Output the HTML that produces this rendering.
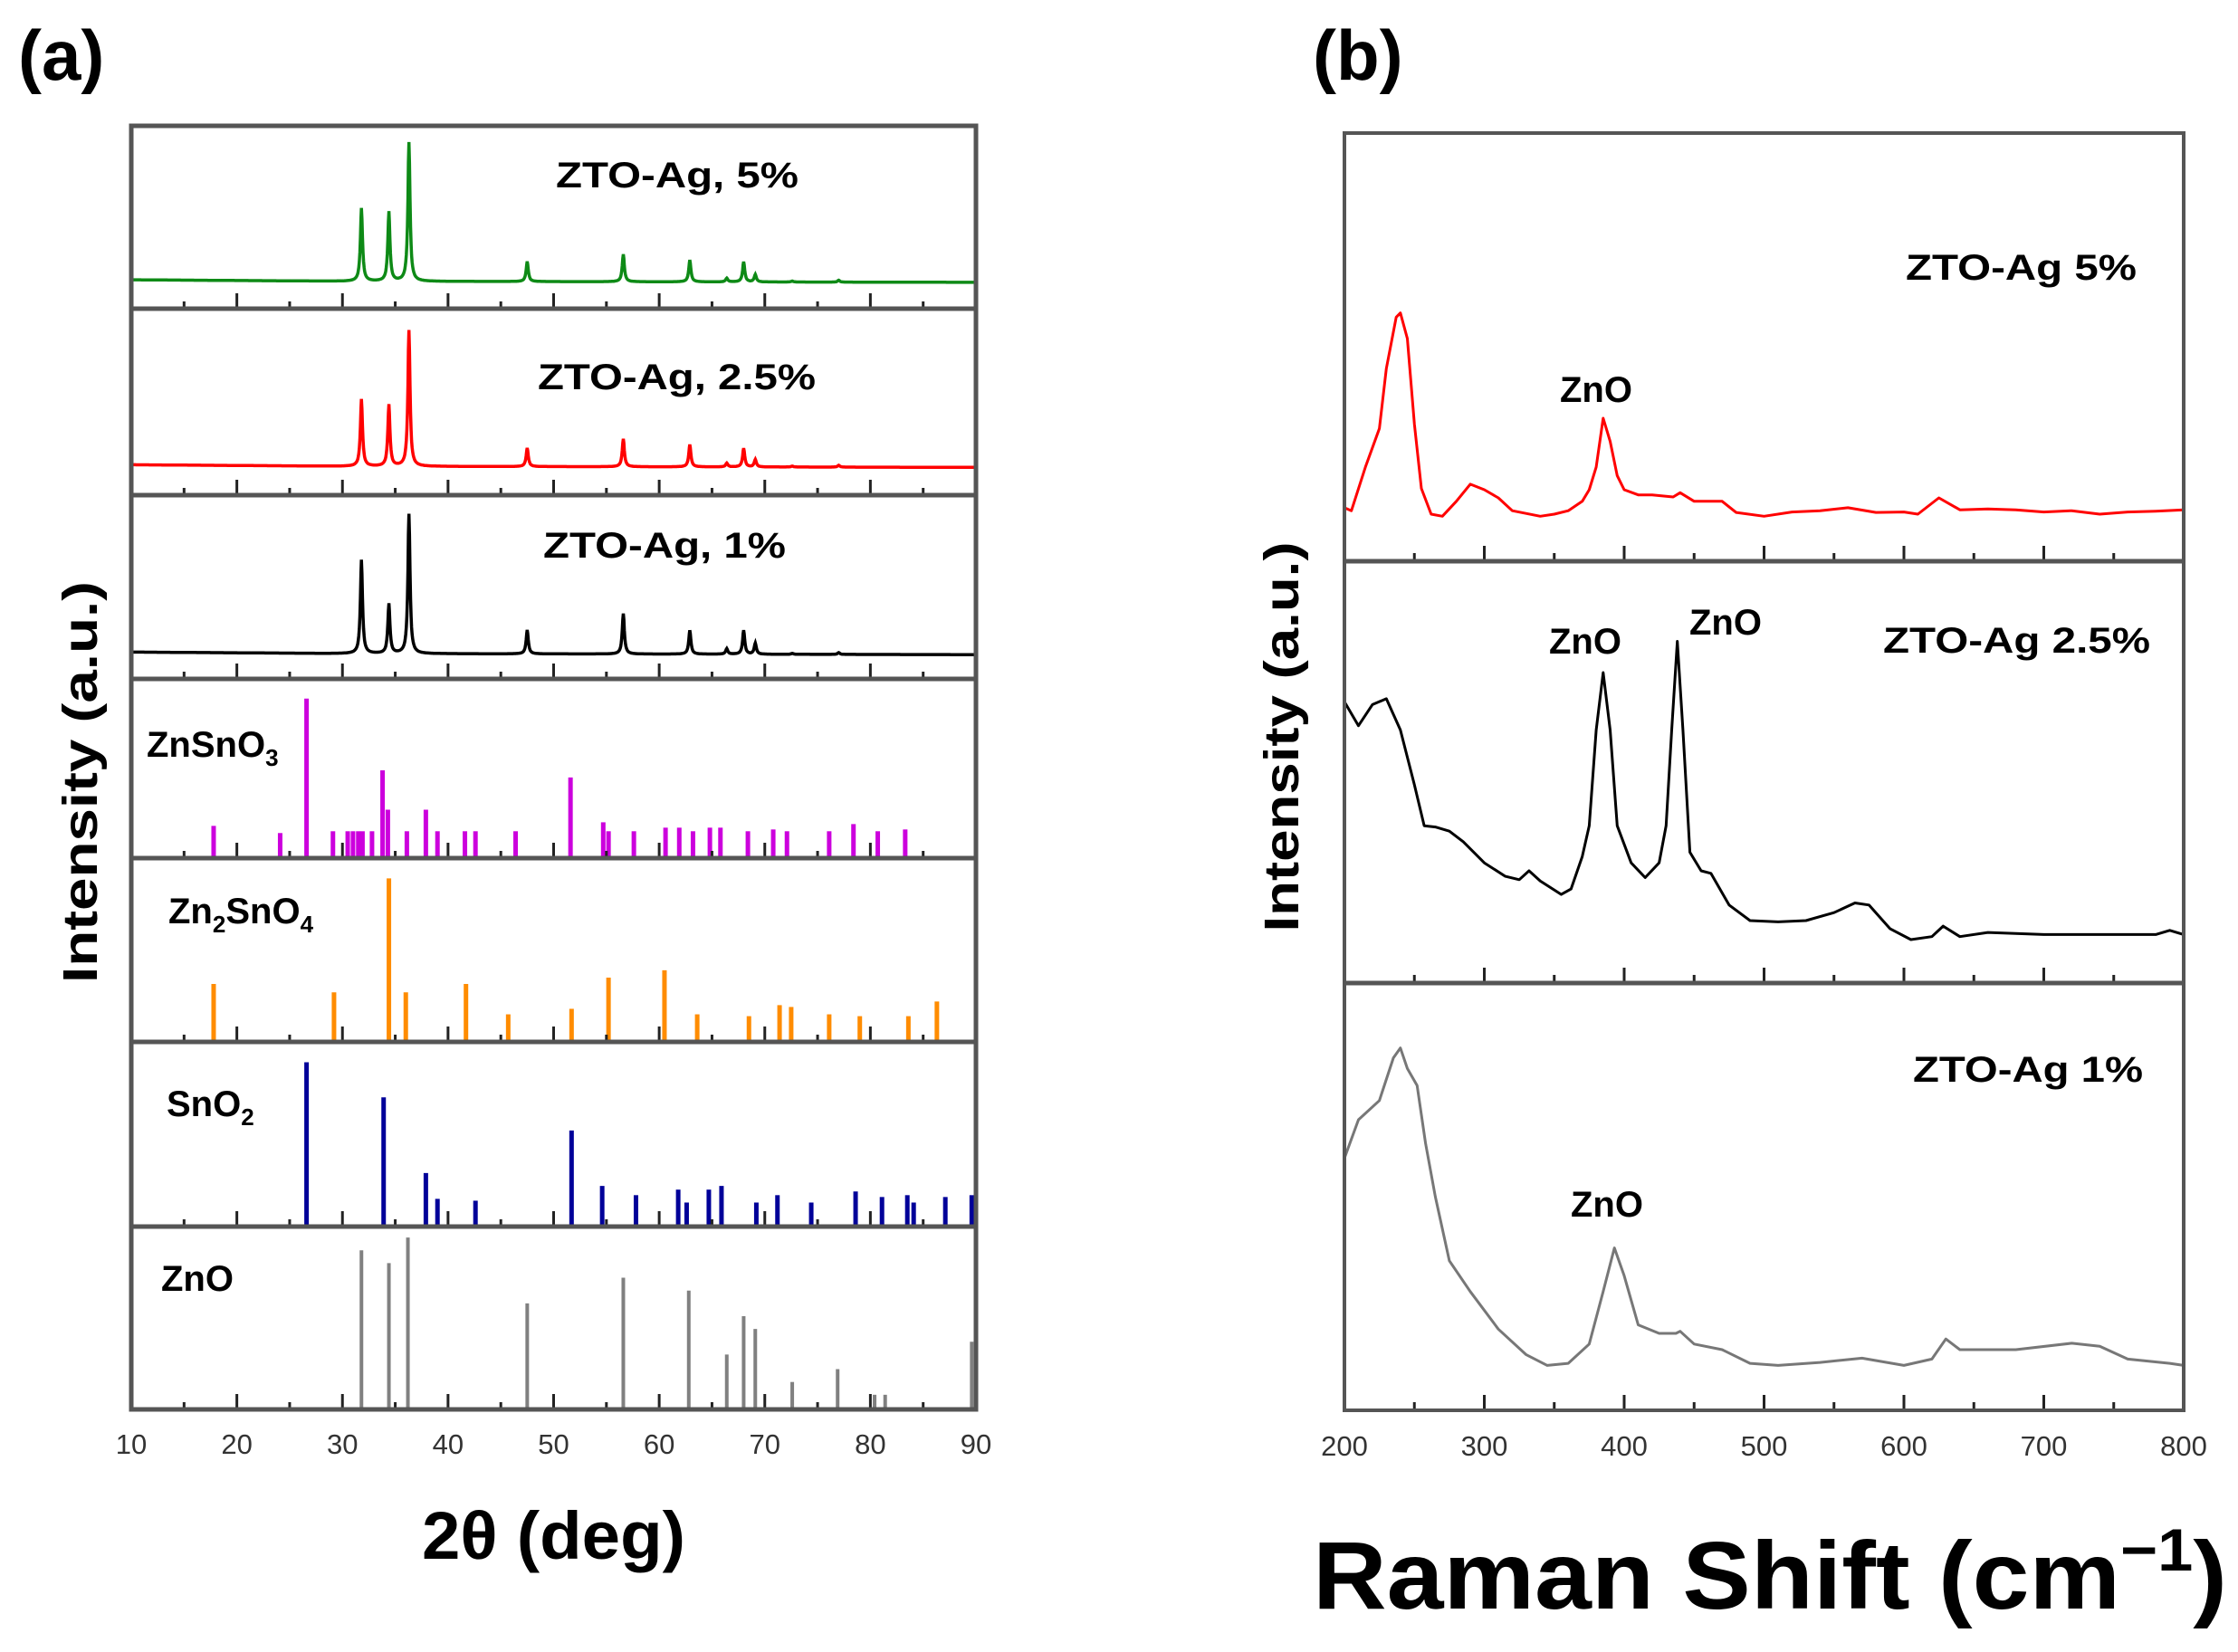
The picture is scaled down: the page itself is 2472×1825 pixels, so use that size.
<!DOCTYPE html>
<html><head><meta charset="utf-8"><style>
body{margin:0;background:#fff}
svg{display:block;font-family:"Liberation Sans",sans-serif}
</style></head><body>
<svg id="fig" width="2472" height="1825" viewBox="0 0 2472 1825" xmlns="http://www.w3.org/2000/svg">
<rect width="2472" height="1825" fill="#fff"/>
<g id="ga"></g>
<g id="gb"></g>
</svg>
<script>
// ---------- Panel (a) XRD data ----------
const xrdPeakPos = [31.8, 34.4, 36.3, 47.5, 56.6, 62.9, 66.4, 68.0, 69.1, 72.6, 77.0];
const xrd5Amp   = [40, 38, 76, 11, 15, 12, 2, 11, 4, 0.5, 1];
const xrd25Amp  = [36, 33, 73, 10, 15, 12, 2, 10, 4, 0.5, 1];
const xrd1Amp   = [51, 27, 76, 13, 22, 13, 3, 13, 6, 0.5, 1];
const xrd5Base = 15, xrd25Base = 15.5, xrd1Base = 13.8;

const znsno3Pos = [17.8,24.1,26.6,29.1,30.5,31.0,31.5,31.9,32.8,33.8,34.3,36.1,37.9,39.0,41.6,42.6,46.4,51.6,54.7,55.2,57.6,60.6,61.9,63.2,64.8,65.8,68.4,70.8,72.1,76.1,78.4,80.7,83.3];
const znsno3Int = [18,14,89,15,15,15,15,15,15,49,27,15,27,15,15,15,15,45,20,15,15,17,17,15,17,17,15,16,15,15,19,15,16];
const zn2sno4Pos = [17.8,29.2,34.4,36.0,41.7,45.7,51.7,55.2,60.5,63.6,68.5,71.4,72.5,76.1,79.0,83.6,86.3];
const zn2sno4Int = [31.5,27,89,27,31.5,15,18,35,39,15,14,20,19,15,14,14,22];
const sno2Pos = [26.6,33.9,37.9,39.0,42.6,51.7,54.6,57.8,61.8,62.6,64.7,65.9,69.2,71.2,74.4,78.6,81.1,83.5,84.1,87.1,89.6];
const sno2Int = [89,70,29,15,14,52,22,17,20,13,20,22,13,17,13,19,16,17,13,16,17];
const znoPos = [31.8,34.4,36.2,47.5,56.6,62.8,66.4,68.0,69.1,72.6,76.9,80.4,81.4,89.6];
const znoInt = [87,80,94,58,72,65,30,51,44,15,22,8,8,37];
const xTicksA = [10,20,30,40,50,60,70,80,90];

// ---------- Panel (b) Raman data ----------
const ram5X = [200,205,215,225,230,237,240,245,250,255,262,270,280,290,300,310,320,340,350,360,370,375,380,385,390,395,400,410,420,435,440,450,470,480,500,520,540,560,580,600,610,625,640,660,680,700,720,740,760,780,800];
const ram5Y = [12.5,11.8,22,31,45,57,58,52,32,17,11,10.5,14,18,16.7,14.8,11.8,10.5,11,11.8,14,16.7,22,33.4,28,20,16.7,15.5,15.5,15,16,14,14,11.4,10.5,11.5,11.8,12.5,11.4,11.5,11,14.8,12,12.2,12,11.5,11.8,11,11.5,11.7,12];
const ram25X = [200,210,220,230,240,250,257,265,275,285,300,315,325,332,340,355,362,370,375,380,385,390,395,405,415,425,430,434,438,442,447,455,462,475,490,510,530,550,565,575,590,605,620,628,640,660,700,740,780,790,800];
const ram25Y = [66.7,61,66,67.4,60,47,37.3,37,36,33.5,28.5,25.3,24.5,26.6,24.2,21,22.3,30,37.3,60,73.6,60,37.3,28.5,25,28.5,37.3,60,81,60,31,26.6,26,18.5,14.8,14.5,14.8,16.7,19,18.5,12.9,10.3,11,13.5,11,12,11.5,11.5,11.5,12.5,11.5];
const ram1X = [200,210,225,235,240,245,252,258,265,275,290,310,330,345,360,375,385,393,400,410,425,437,440,450,470,490,510,540,570,600,620,630,640,680,720,740,760,790,800];
const ram1Y = [59,68,72.5,82.5,84.8,80,76,62.5,50,35,27.8,19,13,10.5,11,15.5,27.8,38,31.5,20,18,18,18.5,15.5,14.2,11,10.5,11.2,12.2,10.5,12,16.7,14.2,14.2,15.7,15,12,11,10.5];
const xTicksB = [200,300,400,500,600,700,800];

const NS = "http://www.w3.org/2000/svg";
function mk(tag, attrs, parent, txt){
  const e = document.createElementNS(NS, tag);
  for (const k in attrs) e.setAttribute(k, attrs[k]);
  if (txt !== undefined) e.textContent = txt;
  parent.appendChild(e);
  return e;
}
const ga = document.getElementById('ga');
const gb = document.getElementById('gb');

// ---- Panel (a) geometry ----
const AL = 145, AR = 1078;
const aBounds = [139,341,547,750,948,1151,1355,1557];
const xA = v => AL + (v - 10) / 80 * (AR - AL);
function yA(i, frac){ const t = aBounds[i], b = aBounds[i+1]; return b - frac/100 * (b - t); }

function xrdPath(i, base, amps, color, name){
  let d = "";
  for (let k = 0; k <= 1600; k++){
    const x = 10 + k * 0.05;
    let v = base + (x < 30 ? 0.8*(30-x)/20 : -0.6*(x-30)/60);
    for (let j = 0; j < xrdPeakPos.length; j++){
      const dx = (x - xrdPeakPos[j]) / 0.12;
      v += amps[j] / (1 + dx*dx);
    }
    d += (k ? "L" : "M") + xA(x).toFixed(1) + " " + yA(i, v).toFixed(1);
  }
  const p = mk('path', {d: d, fill:'none', stroke: color, 'stroke-width': 3.5}, ga);
  
  
}
function sticks(i, pos, ints, color, w, name){
  for (let j = 0; j < pos.length; j++){
    const s = mk('line', {x1: xA(pos[j]), x2: xA(pos[j]), y1: yA(i,0), y2: yA(i, ints[j]), stroke: color, 'stroke-width': w}, ga);
    
    
  }
}
xrdPath(0, xrd5Base, xrd5Amp, '#0e8a16', 'xrd-curve-5pct');
xrdPath(1, xrd25Base, xrd25Amp, '#ff0000', 'xrd-curve-2p5pct');
xrdPath(2, xrd1Base, xrd1Amp, '#000000', 'xrd-curve-1pct');
sticks(3, znsno3Pos, znsno3Int, '#cc00dd', 5, 'znsno3-reference-stick');
sticks(4, zn2sno4Pos, zn2sno4Int, '#ff8c00', 5, 'zn2sno4-reference-stick');
sticks(5, sno2Pos, sno2Int, '#000099', 5, 'sno2-reference-stick');
sticks(6, znoPos, znoInt, '#808080', 4, 'zno-reference-stick');

// ticks and frames (a)
for (let i = 0; i < 7; i++){
  const b = aBounds[i+1];
  for (let v = 15; v < 90; v += 5){
    const major = v % 10 === 0;
    const t = mk('line', {x1:xA(v), x2:xA(v), y1:b, y2:b-(major?17:8), stroke:'#222', 'stroke-width':3}, ga);
    
    
  }
  if (i < 6){
    const dv = mk('line', {x1:AL, x2:AR, y1:b, y2:b, stroke:'#555', 'stroke-width':5}, ga);
    
    
  }
}
const fa = mk('rect', {x:AL, y:aBounds[0], width:AR-AL, height:aBounds[7]-aBounds[0], fill:'none', stroke:'#555', 'stroke-width':5}, ga);


xTicksA.forEach(v => {
  const t = mk('text', {x:xA(v), y:1606, 'font-size':31, 'text-anchor':'middle', fill:'#333'}, ga, String(v));
  
  
});

// ---- Panel (b) geometry ----
const BL = 1485, BR = 2412;
const bBounds = [147,620,1086,1558];
const xB = v => BL + (v - 200) / 600 * (BR - BL);
function yB(i, frac){ const t = bBounds[i], b = bBounds[i+1]; return b - frac/100 * (b - t); }
function ramPath(i, xs, ys, color, w, name){
  let d = "";
  for (let k = 0; k < xs.length; k++) d += (k ? "L" : "M") + xB(xs[k]).toFixed(1) + " " + yB(i, ys[k]).toFixed(1);
  const p = mk('path', {d:d, fill:'none', stroke:color, 'stroke-width':w, 'stroke-linejoin':'round'}, gb);
  
  
}
ramPath(0, ram5X, ram5Y, '#ff0000', 3, 'raman-curve-5pct');
ramPath(1, ram25X, ram25Y, '#000000', 3, 'raman-curve-2p5pct');
ramPath(2, ram1X, ram1Y, '#777777', 3, 'raman-curve-1pct');
for (let i = 0; i < 3; i++){
  const b = bBounds[i+1];
  for (let v = 250; v < 800; v += 50){
    const major = v % 100 === 0;
    const t = mk('line', {x1:xB(v), x2:xB(v), y1:b, y2:b-(major?17:9), stroke:'#222', 'stroke-width':3}, gb);
    
    
  }
  if (i < 2){
    const dv = mk('line', {x1:BL, x2:BR, y1:b, y2:b, stroke:'#555', 'stroke-width':5}, gb);
    
    
  }
}
const fb = mk('rect', {x:BL, y:bBounds[0], width:BR-BL, height:bBounds[3]-bBounds[0], fill:'none', stroke:'#555', 'stroke-width':4}, gb);


xTicksB.forEach(v => {
  const t = mk('text', {x:xB(v), y:1608, 'font-size':31, 'text-anchor':'middle', fill:'#333'}, gb, String(v));
  
  
});
</script>
<svg width="0" height="0"></svg>
<div style="position:absolute;left:0;top:0">
<svg width="2472" height="1825" xmlns="http://www.w3.org/2000/svg" style="font-family:'Liberation Sans',sans-serif;font-weight:bold">
<text x="20" y="88" font-size="78">(a)</text>
<text x="1450" y="88" font-size="78">(b)</text>
<text x="614" y="207" font-size="40" textLength="268" lengthAdjust="spacingAndGlyphs">ZTO-Ag, 5%</text>
<text x="594" y="430" font-size="40" textLength="307" lengthAdjust="spacingAndGlyphs">ZTO-Ag, 2.5%</text>
<text x="600" y="616" font-size="40" textLength="268" lengthAdjust="spacingAndGlyphs">ZTO-Ag, 1%</text>
<text x="162" y="836" font-size="40">ZnSnO<tspan font-size="26" dy="10">3</tspan></text>
<text x="186" y="1020" font-size="40">Zn<tspan font-size="26" dy="10">2</tspan><tspan dy="-10">SnO</tspan><tspan font-size="26" dy="10">4</tspan></text>
<text x="184" y="1233" font-size="40">SnO<tspan font-size="26" dy="10">2</tspan></text>
<text x="178" y="1426" font-size="40">ZnO</text>
<text x="466" y="1722" font-size="74" textLength="291" lengthAdjust="spacingAndGlyphs">2θ (deg)</text>
<text transform="translate(107,864) rotate(-90)" text-anchor="middle" font-size="54" textLength="444" lengthAdjust="spacingAndGlyphs">Intensity (a.u.)</text>
<text transform="translate(1434,814) rotate(-90)" text-anchor="middle" font-size="54" textLength="431" lengthAdjust="spacingAndGlyphs">Intensity (a.u.)</text>
<text x="2105" y="309" font-size="40" textLength="255" lengthAdjust="spacingAndGlyphs">ZTO-Ag 5%</text>
<text x="1763" y="444" font-size="40" text-anchor="middle">ZnO</text>
<text x="1751" y="722" font-size="40" text-anchor="middle">ZnO</text>
<text x="1906" y="701" font-size="40" text-anchor="middle">ZnO</text>
<text x="2080" y="721" font-size="40" textLength="295" lengthAdjust="spacingAndGlyphs">ZTO-Ag 2.5%</text>
<text x="2113" y="1195" font-size="40" textLength="254" lengthAdjust="spacingAndGlyphs">ZTO-Ag 1%</text>
<text x="1775" y="1344" font-size="40" text-anchor="middle">ZnO</text>
<text x="1450" y="1777" font-size="106" textLength="1010" lengthAdjust="spacingAndGlyphs">Raman Shift (cm<tspan font-size="66" dy="-42">−1</tspan><tspan dy="42">)</tspan></text>
</svg>
</div>
</body></html>
